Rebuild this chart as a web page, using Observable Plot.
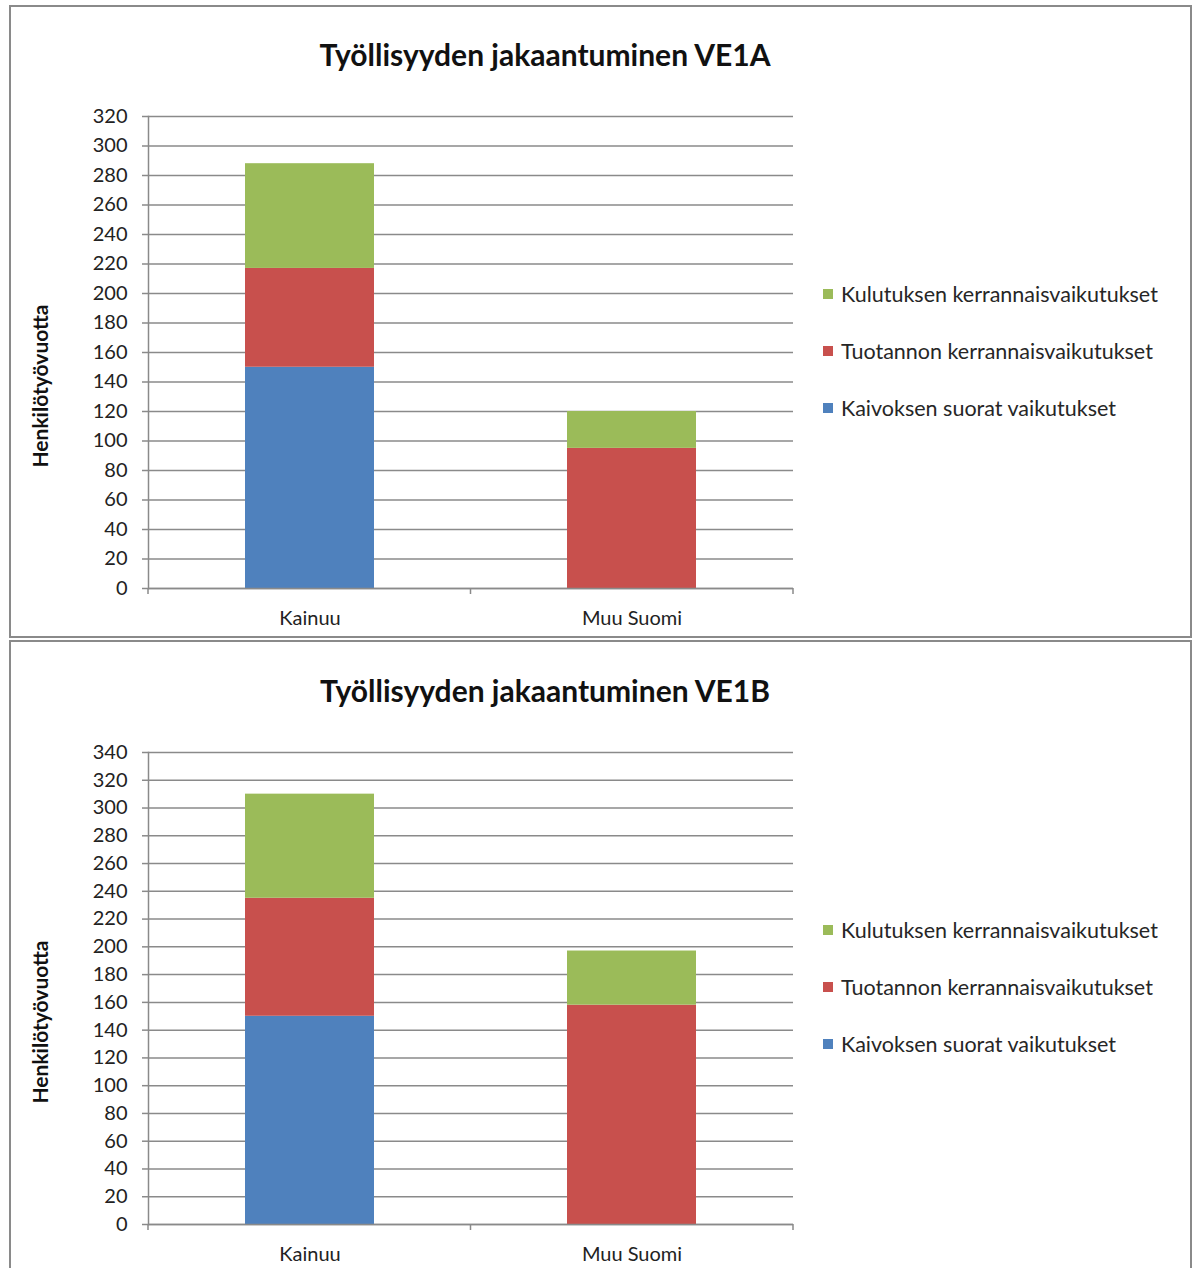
<!DOCTYPE html>
<html>
<head>
<meta charset="utf-8">
<script src="https://cdn.jsdelivr.net/npm/d3@7"></script>
<script src="https://cdn.jsdelivr.net/npm/@observablehq/plot@0.6"></script>
<style>
  html, body { margin: 0; padding: 0; background: #fff; overflow: hidden; }
  body { width: 1194px; height: 1268px; position: relative; font-family: Lato, "Open Sans", sans-serif; color: #222; }
  .panel { position: absolute; border: 2px solid #8a8a8a; box-sizing: border-box; background: #fff; }
  .title { position: absolute; left: 0; width: 1090px; text-align: center; font-weight: bold; font-size: 30px; color: #111; white-space: nowrap; }
  .ylabel { position: absolute; font-weight: bold; font-size: 21px; color: #111; white-space: nowrap; transform: translate(-50%, -50%) rotate(-90deg); }
  .legend { position: absolute; left: 823px; font-size: 21.5px; color: #262626; }
  .legend .item { position: absolute; left: 0; white-space: nowrap; display: flex; align-items: center; transform: translateY(-50%); }
  .legend .sw { width: 10px; height: 10px; margin-right: 8px; flex: none; }
  .chart { position: absolute; left: 0; }
</style>
</head>
<body>
<script>
// Regions on the x axis
const regions = ["Kainuu", "Muu Suomi"];
// Impact series, stacked bottom to top
const seriesNames = ["Kaivoksen suorat vaikutukset", "Tuotannon kerrannaisvaikutukset", "Kulutuksen kerrannaisvaikutukset"];
const seriesColors = ["#4F81BD", "#C8504D", "#9BBB59"];

// VE1A: employment (person-years) per region, one array per series
const ve1aDirect = [150, 0];
const ve1aProduction = [67, 95];
const ve1aConsumption = [71, 25];
const ve1aTicks = d3.range(0, 321, 20);

// VE1B
const ve1bDirect = [150, 0];
const ve1bProduction = [85, 158];
const ve1bConsumption = [75, 39];
const ve1bTicks = d3.range(0, 341, 20);

function toRows(direct, production, consumption) {
  const rows = [];
  [direct, production, consumption].forEach((vals, s) => {
    regions.forEach((r, i) => rows.push({region: r, series: seriesNames[s], value: vals[i]}));
  });
  return rows;
}

const gridColor = "#8a8a8a";

function drawChart({top, title, titleTop, ylabelTop, legendTop, rows, ticks}) {
  const panelTitle = document.createElement("div");
  panelTitle.className = "title";
  panelTitle.style.top = titleTop + "px";
  panelTitle.textContent = title;
  document.body.appendChild(panelTitle);

  const yl = document.createElement("div");
  yl.className = "ylabel";
  yl.style.left = "39px";
  yl.style.top = ylabelTop + "px";
  yl.textContent = "Henkilötyövuotta";
  document.body.appendChild(yl);

  const leg = document.createElement("div");
  leg.className = "legend";
  leg.style.top = legendTop + "px";
  // legend lists the top series first
  [2, 1, 0].forEach((s, k) => {
    const it = document.createElement("div");
    it.className = "item";
    it.style.top = (k * 57) + "px";
    const sw = document.createElement("span");
    sw.className = "sw";
    sw.style.background = seriesColors[s];
    it.appendChild(sw);
    it.appendChild(document.createTextNode(seriesNames[s]));
    leg.appendChild(it);
  });
  document.body.appendChild(leg);

  const nCat = regions.length;
  const padInner = 0.6, padOuter = 0.3;

  // tick marks between categories on the category axis
  const categoryTicks = (index, scales, values, dim) => {
    const g = d3.create("svg:g").attr("stroke", gridColor).attr("stroke-width", 1.5);
    const w = dim.width - dim.marginLeft - dim.marginRight;
    const step = w / (nCat - padInner + 2 * padOuter);
    const y0 = dim.height - dim.marginBottom;
    for (let i = 0; i <= nCat; i++) {
      const x = dim.marginLeft + i * step;
      g.append("line").attr("x1", x).attr("x2", x).attr("y1", y0).attr("y2", y0 + 6);
    }
    return g.node();
  };

  const chart = Plot.plot({
    width: 800,
    height: 542,
    marginLeft: 148,
    marginRight: 7,
    marginTop: 20,
    marginBottom: 50,
    style: {fontFamily: "Lato, 'Open Sans', sans-serif", fontSize: "20px", color: "#222", background: "transparent", overflow: "visible"},
    x: {domain: regions, paddingInner: padInner, paddingOuter: padOuter, label: null},
    y: {domain: [0, ticks[ticks.length - 1]], label: null},
    color: {domain: seriesNames, range: seriesColors},
    marks: [
      Plot.gridY(ticks, {stroke: gridColor, strokeOpacity: 1, strokeWidth: 1.5}),
      Plot.barY(rows, {x: "region", y: "value", fill: "series", inset: 0}),
      Plot.frame({anchor: "left", stroke: gridColor, strokeWidth: 1.5}),
      Plot.ruleY([0], {stroke: gridColor, strokeWidth: 1.5}),
      Plot.axisY(ticks, {tickSize: 6, tickPadding: 15, stroke: gridColor, strokeWidth: 1.5, fontSize: 20, label: null}),
      Plot.axisX({tickSize: 0, tickPadding: 22, fontSize: 20, label: null}),
      categoryTicks
    ]
  });
  chart.classList.add("chart");
  chart.style.top = top + "px";
  document.body.appendChild(chart);
}

// panel frames
for (const [t, h] of [[5, 633], [640, 640]]) {
  const p = document.createElement("div");
  p.className = "panel";
  p.style.left = "9px";
  p.style.top = t + "px";
  p.style.width = "1183px";
  p.style.height = h + "px";
  document.body.appendChild(p);
}

drawChart({
  top: 96,
  title: "Työllisyyden jakaantuminen VE1A",
  titleTop: 36,
  ylabelTop: 386,
  legendTop: 294,
  rows: toRows(ve1aDirect, ve1aProduction, ve1aConsumption),
  ticks: ve1aTicks
});

drawChart({
  top: 732,
  title: "Työllisyyden jakaantuminen VE1B",
  titleTop: 672,
  ylabelTop: 1022,
  legendTop: 930,
  rows: toRows(ve1bDirect, ve1bProduction, ve1bConsumption),
  ticks: ve1bTicks
});
</script>
</body>
</html>
